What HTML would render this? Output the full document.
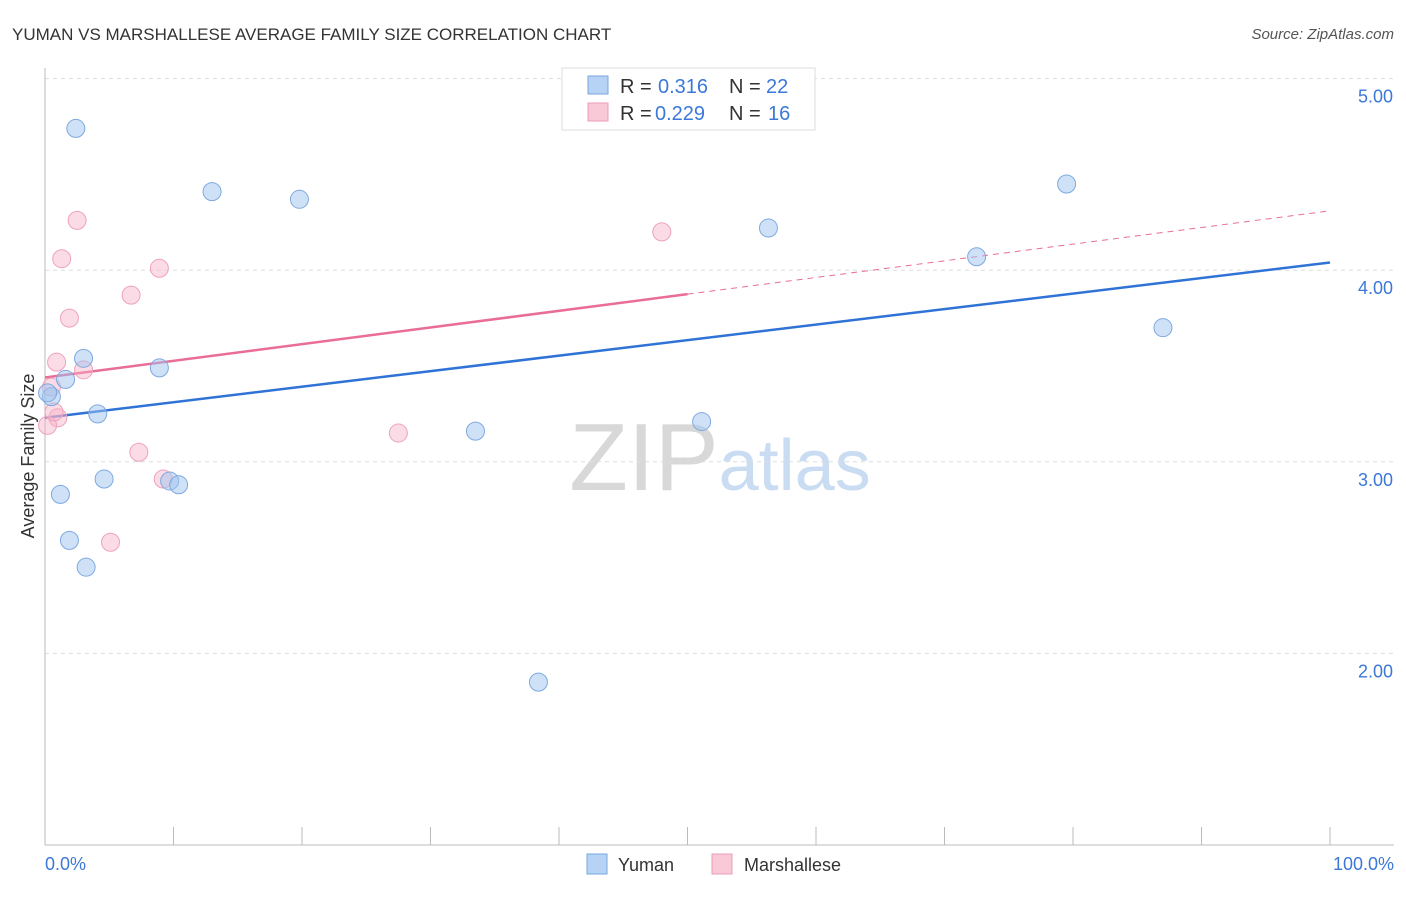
<!DOCTYPE html>
<html><head><meta charset="utf-8"><style>
body{margin:0;background:#fff;font-family:"Liberation Sans",sans-serif;}
svg text{font-family:"Liberation Sans",sans-serif;}
</style></head><body>
<svg id="chart" width="1406" height="892" viewBox="0 0 1406 892">
<text x="12" y="40" font-size="17" fill="#333">YUMAN VS MARSHALLESE AVERAGE FAMILY SIZE CORRELATION CHART</text>
<text x="1394" y="39" font-size="15" fill="#555" font-style="italic" text-anchor="end">Source: ZipAtlas.com</text>
<text x="720" y="490" font-size="96" text-anchor="middle" fill="#ddd" font-family="Liberation Serif"><tspan fill="#d8d8d8">ZIP</tspan><tspan fill="#c9dcf2" font-family="Liberation Sans" font-size="72">atlas</tspan></text>
<g id="grid"></g><g id="axes"></g><g id="trends"></g><g id="points"></g>
<text transform="translate(34,456) rotate(-90)" font-size="18" fill="#333" text-anchor="middle">Average Family Size</text>
<text x="45" y="870" font-size="18" fill="#3b78d8">0.0%</text>
<text x="1394" y="870" font-size="18" fill="#3b78d8" text-anchor="end">100.0%</text>
<g>
<rect x="562" y="68" width="253" height="62" fill="#fff" stroke="#ddd"/>
<rect x="588" y="76" width="20" height="18" fill="#b6d2f5" stroke="#7aa7e0"/>
<text x="620" y="93" font-size="20" fill="#333">R =</text>
<text x="658" y="93" font-size="20" fill="#3b78d8">0.316</text>
<text x="729" y="93" font-size="20" fill="#333">N =</text>
<text x="766" y="93" font-size="20" fill="#3b78d8">22</text>
<rect x="588" y="103" width="20" height="18" fill="#f9c9d7" stroke="#ee9bb5"/>
<text x="620" y="120" font-size="20" fill="#333">R =</text>
<text x="655" y="120" font-size="20" fill="#3b78d8">0.229</text>
<text x="729" y="120" font-size="20" fill="#333">N =</text>
<text x="768" y="120" font-size="20" fill="#3b78d8">16</text>
</g>
<g>
<rect x="587" y="854" width="20" height="20" fill="#b6d2f5" stroke="#7aa7e0"/>
<text x="618" y="871" font-size="18" fill="#333">Yuman</text>
<rect x="712" y="854" width="20" height="20" fill="#f9c9d7" stroke="#ee9bb5"/>
<text x="744" y="871" font-size="18" fill="#333">Marshallese</text>
</g>
</svg>
<script>
const yumanX=[2.4,13.0,19.8,56.3,79.5,72.5,87.0,3.0,8.9,1.6,0.5,4.1,33.5,51.1,4.6,1.2,9.7,10.4,1.9,3.2,38.4,0.2];
const yumanY=[4.74,4.41,4.37,4.22,4.45,4.07,3.70,3.54,3.49,3.43,3.34,3.25,3.16,3.21,2.91,2.83,2.90,2.88,2.59,2.45,1.85,3.36];
const marshX=[2.5,1.3,8.9,6.7,1.9,0.9,3.0,0.5,1.0,0.2,27.5,7.3,9.2,5.1,48.0,0.7];
const marshY=[4.26,4.06,4.01,3.87,3.75,3.52,3.48,3.39,3.23,3.19,3.15,3.05,2.91,2.58,4.20,3.26];
const yTicks=[2,3,4,5];
const yTickLabels=["2.00","3.00","4.00","5.00"];
const yumanTrend=[3.23,4.04];
const marshTrend=[3.44,4.31];
const NS="http://www.w3.org/2000/svg";
const xs=p=>45+p*12.85, ys=v=>845-(v-1)*191.6;
function mk(tag,attrs,parent){const e=document.createElementNS(NS,tag);for(const k in attrs)e.setAttribute(k,attrs[k]);document.getElementById(parent).appendChild(e);return e;}
yTicks.forEach((t,i)=>{
 const l=mk('line',{x1:45,x2:1394,y1:ys(t),y2:ys(t),stroke:'#ddd','stroke-dasharray':'4,4'},'grid');
 
 
 const tx=mk('text',{x:1393,y:ys(t)+24,'font-size':18,fill:'#3b78d8','text-anchor':'end'},'grid');
 tx.textContent=yTickLabels[i];
 
 
});
let a=mk('line',{x1:45,x2:45,y1:68,y2:845,stroke:'#bbb'},'axes');


a=mk('line',{x1:45,x2:1394,y1:845,y2:845,stroke:'#bbb'},'axes');


for(let i=1;i<=10;i++){const t=mk('line',{x1:xs(i*10),x2:xs(i*10),y1:827,y2:845,stroke:'#bbb'},'axes');
 
 }
let tl=mk('line',{x1:xs(0),y1:ys(yumanTrend[0]),x2:xs(100),y2:ys(yumanTrend[1]),stroke:'#2f73d6','stroke-width':2.5},'trends');


const pm=marshTrend[0]+(marshTrend[1]-marshTrend[0])*0.5;
tl=mk('line',{x1:xs(0),y1:ys(marshTrend[0]),x2:xs(50),y2:ys(pm),stroke:'#e96d96','stroke-width':2.5},'trends');


tl=mk('line',{x1:xs(50),y1:ys(pm),x2:xs(100),y2:ys(marshTrend[1]),stroke:'#e96d96','stroke-width':1,'stroke-dasharray':'6,5'},'trends');


marshX.forEach((x,i)=>{const c=mk('circle',{cx:xs(x),cy:ys(marshY[i]),r:9,fill:'rgba(246,178,200,0.45)',stroke:'#eea2bb','stroke-width':1},'points');
 
 });
yumanX.forEach((x,i)=>{const c=mk('circle',{cx:xs(x),cy:ys(yumanY[i]),r:9,fill:'rgba(160,196,240,0.5)',stroke:'#7ea9df','stroke-width':1},'points');
 
 });
</script>
</body></html>
